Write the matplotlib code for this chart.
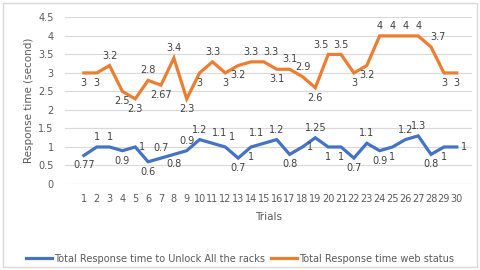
import matplotlib
matplotlib.use("Agg")
import matplotlib.pyplot as plt
from matplotlib.patches import Rectangle

trials = list(range(1, 31))
unlock = [0.77, 1, 1, 0.9, 1, 0.6, 0.7, 0.8, 0.9, 1.2, 1.1, 1, 0.7, 1, 1.1,
          1.2, 0.8, 1, 1.25, 1, 1, 0.7, 1.1, 0.9, 1, 1.2, 1.3, 0.8, 1, 1]
web = [3, 3, 3.2, 2.5, 2.3, 2.8, 2.67, 3.4, 2.3, 3, 3.3, 3, 3.2, 3.3, 3.3,
       3.1, 3.1, 2.9, 2.6, 3.5, 3.5, 3, 3.2, 4, 4, 4, 4, 3.7, 3, 3]
unlock_labels = ["0.77", "1", "1", "0.9", "1", "0.6", "0.7", "0.8", "0.9", "1.2",
                 "1.1", "1", "0.7", "1", "1.1", "1.2", "0.8", "1", "1.25", "1",
                 "1", "0.7", "1.1", "0.9", "1", "1.2", "1.3", "0.8", "1", "1"]
web_labels = ["3", "3", "3.2", "2.5", "2.3", "2.8", "2.67", "3.4", "2.3", "3",
              "3.3", "3", "3.2", "3.3", "3.3", "3.1", "3.1", "2.9", "2.6", "3.5",
              "3.5", "3", "3.2", "4", "4", "4", "4", "3.7", "3", "3"]
series_names = ["Total Response time to Unlock All the racks", "Total Response time web status"]

# label placement (style): a=above, b=below, r=right, l=above-left, R=above-right
unlock_pos = "baabrbabaaRRbblabrabbbabbaabbr"
web_pos = "bbabbababbabbaRbaablabbaaaaRbb"

blue = "#4472C4"
orange = "#ED7D31"

fig = plt.figure(figsize=(4.8, 2.7), dpi=100)
fig.patches.append(Rectangle((0.007, 0.011), 0.987, 0.978, transform=fig.transFigure,
                             fill=False, edgecolor="#d9d9d9", linewidth=1))
ax = fig.add_axes([0.135, 0.3185, 0.848, 0.617])

ax.plot(trials, unlock, color=blue, lw=2.3, label=series_names[0], solid_joinstyle="miter")
ax.plot(trials, web, color=orange, lw=2.3, label=series_names[1], solid_joinstyle="miter")

offsets = {"a": (0, 3.5, "center", "bottom"), "b": (0, -3.5, "center", "top"),
           "r": (3, 0, "left", "center"), "l": (-5, 3.5, "center", "bottom"),
           "R": (5, 3.5, "center", "bottom")}
for xs, ys, labs, pos in [(trials, unlock, unlock_labels, unlock_pos),
                          (trials, web, web_labels, web_pos)]:
    for x, y, t, p in zip(xs, ys, labs, pos):
        dx, dy, ha, va = offsets[p]
        ax.annotate(t, (x, y), xytext=(dx, dy), textcoords="offset points",
                    ha=ha, va=va, fontsize=7, color="#404040")

ax.set_ylim(0, 4.5)
ax.set_xlim(-0.48, 31.17)
ax.set_yticks([0, 0.5, 1, 1.5, 2, 2.5, 3, 3.5, 4, 4.5])
ax.set_yticklabels(["0", "0.5", "1", "1.5", "2", "2.5", "3", "3.5", "4", "4.5"])
ax.set_xticks(trials)
ax.set_xticklabels([str(t) for t in trials])
ax.tick_params(axis="both", length=0, labelsize=7, labelcolor="#595959")
ax.tick_params(axis="x", pad=7)
ax.tick_params(axis="y", pad=8)
ax.grid(axis="y", color="#d9d9d9", lw=0.8)
ax.set_axisbelow(True)
for s in ax.spines.values():
    s.set_visible(False)

ax.set_ylabel("Response time (second)", fontsize=7.5, color="#595959", labelpad=3)
ax.set_xlabel("Trials", fontsize=7.5, color="#595959", labelpad=6)

fig.legend(loc="center", bbox_to_anchor=(0.5, 0.042), ncol=2, frameon=False,
           fontsize=7, handlelength=2.7, handletextpad=0.2, columnspacing=0.6,
           labelcolor="#595959")

fig.savefig("out.png", dpi=100)
